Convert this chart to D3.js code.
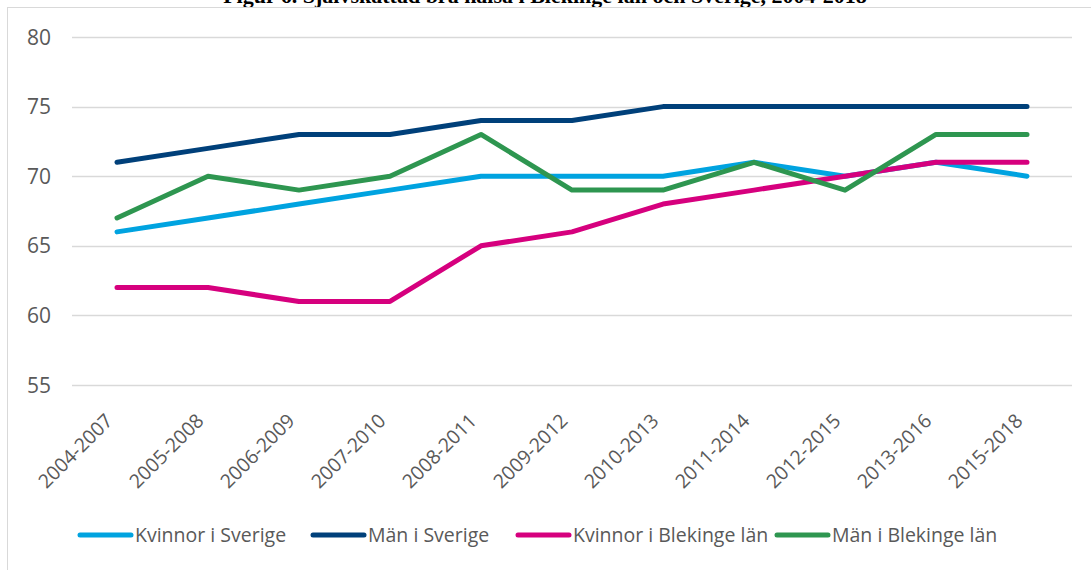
<!DOCTYPE html>
<html>
<head>
<meta charset="utf-8">
<script src="https://cdn.jsdelivr.net/npm/d3@7"></script>
<style>
  body { margin: 0; background: #fff; }
  svg { display: block; }
</style>
</head>
<body>
<div id="root"></div>
<script>
const width = 1091;
const height = 570;

// data
const periods = ["2004-2007", "2005-2008", "2006-2009", "2007-2010", "2008-2011", "2009-2012",
                 "2010-2013", "2011-2014", "2012-2015", "2013-2016", "2015-2018"];
const seriesNames = ["Kvinnor i Sverige", "Män i Sverige", "Kvinnor i Blekinge län", "Män i Blekinge län"];
const kvinnorSverige = [66, 67, 68, 69, 70, 70, 70, 71, 70, 71, 70];
const manSverige = [71, 72, 73, 73, 74, 74, 75, 75, 75, 75, 75];
const kvinnorBlekinge = [62, 62, 61, 61, 65, 66, 68, 69, 70, 71, 71];
const manBlekinge = [67, 70, 69, 70, 73, 69, 69, 71, 69, 73, 73];
const yTicks = [55, 60, 65, 70, 75, 80];
const colors = ["#00a3e0", "#00407a", "#d6007e", "#2e9650"];

const series = [kvinnorSverige, manSverige, kvinnorBlekinge, manBlekinge];

const font = "'Open Sans', sans-serif";

const svg = d3.select("#root")
	.append("svg")
		.attr("width", width)
		.attr("height", height);

// title, cut off by the top edge as in the source image
svg.append("text")
	.attr("x", 545)
	.attr("y", 3)
	.attr("text-anchor", "middle")
	.style("font-family", "'Liberation Serif', serif")
	.style("font-weight", "bold")
	.style("font-size", "22px")
	.style("fill", "#000")
	.text("Figur 6. Självskattad bra hälsa i Blekinge län och Sverige, 2004-2018");

// chart frame
svg.append("rect")
	.attr("x", 7.5)
	.attr("y", 7.5)
	.attr("width", 1100)
	.attr("height", 600)
	.style("fill", "#fff")
	.style("stroke", "#d9d9d9");

const x = d3.scalePoint()
	.domain(periods)
	.range([117, 1027]);

const y = d3.scaleLinear()
	.domain([55, 80])
	.range([385, 37]);

// gridlines
svg.append("g")
	.selectAll("line")
	.data(yTicks).enter()
	.append("line")
		.attr("x1", 72)
		.attr("x2", 1072)
		.attr("y1", d => Math.round(y(d)) + 0.5)
		.attr("y2", d => Math.round(y(d)) + 0.5)
		.style("stroke", "#d9d9d9")
		.style("stroke-width", 1.5);

// y labels
svg.append("g")
	.selectAll("text")
	.data(yTicks).enter()
	.append("text")
		.attr("x", 51)
		.attr("y", d => y(d))
		.attr("dy", "0.36em")
		.attr("text-anchor", "end")
		.style("font-family", font)
		.style("font-size", "21px")
		.style("fill", "#595959")
		.text(d => d);

// x labels, rotated
svg.append("g")
	.selectAll("text")
	.data(periods).enter()
	.append("text")
		.attr("transform", d => `translate(${x(d) - 3}, 422) rotate(-45)`)
		.attr("text-anchor", "end")
		.style("font-family", font)
		.style("font-size", "19.5px")
		.style("fill", "#595959")
		.text(d => d);

// lines
const line = d3.line()
	.x((d, i) => x(periods[i]))
	.y(d => y(d));

svg.append("g")
	.selectAll("path")
	.data(series).enter()
	.append("path")
		.attr("d", line)
		.style("fill", "none")
		.style("stroke", (d, i) => colors[i])
		.style("stroke-width", 5)
		.style("stroke-linejoin", "round")
		.style("stroke-linecap", "round");

// legend
const legendX = [80, 313, 518, 777];
const legend = svg.append("g")
	.selectAll("g")
	.data(seriesNames).enter()
	.append("g")
		.attr("transform", (d, i) => `translate(${legendX[i]}, 535)`);

legend.append("line")
	.attr("x1", 0)
	.attr("x2", 51)
	.style("stroke", (d, i) => colors[i])
	.style("stroke-width", 5)
	.style("stroke-linecap", "round");

legend.append("text")
	.attr("x", 55)
	.attr("dy", "0.36em")
	.style("font-family", font)
	.style("font-size", "19.5px")
	.style("fill", "#595959")
	.text(d => d);
</script>
</body>
</html>
